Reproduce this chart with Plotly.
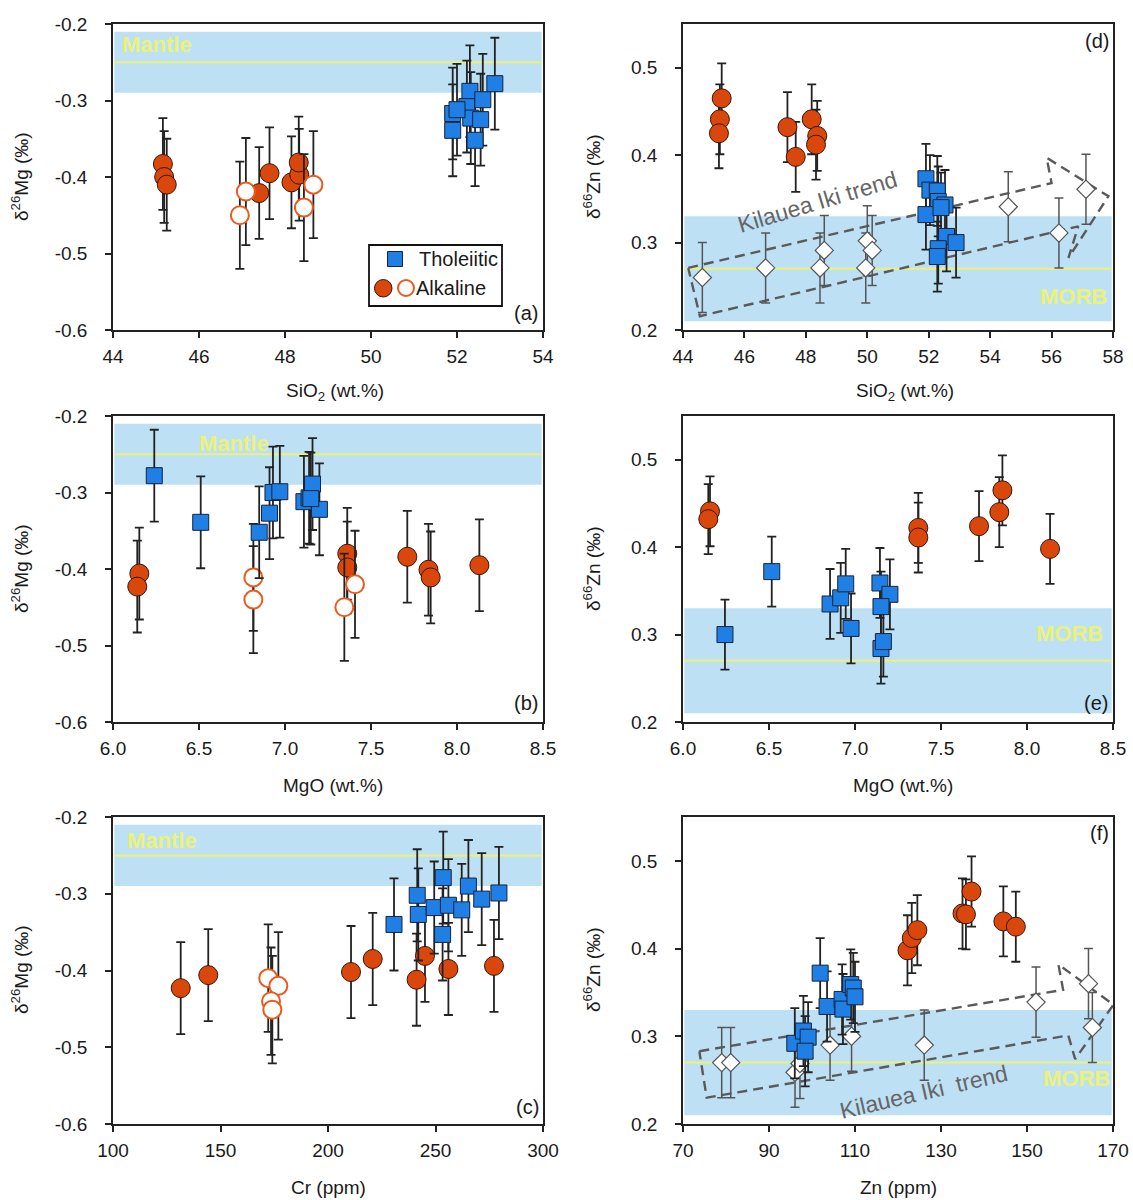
import plotly.graph_objects as go

# ---------------- data ----------------
# (a) d26Mg vs SiO2
a_th_x = [51.90, 51.90, 52.30, 52.23, 52.32, 52.60, 52.55, 52.42, 52.88, 52.00]
a_th_y = [-0.317, -0.339, -0.288, -0.308, -0.323, -0.299, -0.325, -0.352, -0.278, -0.312]
a_alk_x = [45.16, 45.19, 45.25, 47.40, 47.64, 48.15, 48.33, 48.32]
a_alk_y = [-0.383, -0.400, -0.410, -0.421, -0.395, -0.407, -0.397, -0.381]
a_alko_x = [46.95, 47.09, 48.44, 48.66]
a_alko_y = [-0.450, -0.419, -0.440, -0.410]

# (b) d26Mg vs MgO
b_th_x = [6.24, 6.51, 6.85, 6.91, 6.93, 6.97, 7.11, 7.14, 7.16, 7.20, 7.15]
b_th_y = [-0.278, -0.339, -0.352, -0.327, -0.300, -0.299, -0.312, -0.307, -0.289, -0.322, -0.308]
b_alk_x = [6.153, 6.141, 7.362, 7.362, 7.711, 7.834, 7.847, 8.130]
b_alk_y = [-0.406, -0.423, -0.380, -0.398, -0.384, -0.401, -0.411, -0.395]
b_alko_x = [6.816, 6.816, 7.407, 7.345]
b_alko_y = [-0.411, -0.440, -0.420, -0.450]

# (c) d26Mg vs Cr
c_th_x = [230.7, 241.5, 242.0, 249.4, 253.6, 256.0, 253.3, 262.2, 265.3, 271.5, 279.5]
c_th_y = [-0.340, -0.302, -0.327, -0.318, -0.279, -0.315, -0.353, -0.321, -0.290, -0.307, -0.299]
c_alk_x = [131.5, 144.3, 210.7, 220.8, 241.2, 245.1, 256.0, 277.2]
c_alk_y = [-0.423, -0.406, -0.402, -0.385, -0.412, -0.381, -0.398, -0.394]
c_alko_x = [172.2, 176.9, 173.5, 174.1]
c_alko_y = [-0.410, -0.420, -0.440, -0.451]

# (d) d66Zn vs SiO2
d_th_x = [51.91, 52.04, 52.28, 52.31, 52.53, 51.91, 52.40, 52.58, 52.89, 52.31, 52.28]
d_th_y = [0.373, 0.360, 0.359, 0.347, 0.343, 0.332, 0.340, 0.307, 0.300, 0.293, 0.284]
d_alk_x = [45.26, 45.20, 45.17, 47.40, 47.67, 48.19, 48.37, 48.33]
d_alk_y = [0.465, 0.441, 0.425, 0.432, 0.398, 0.441, 0.422, 0.412]
d_ki_x = [44.63, 46.69, 48.46, 48.60, 49.95, 50.00, 50.16, 54.59, 56.24, 57.12]
d_ki_y = [0.260, 0.271, 0.271, 0.291, 0.271, 0.302, 0.291, 0.341, 0.311, 0.361]
d_trend_x = [44.17, 56.00, 55.84, 57.85, 56.55, 56.87, 44.55, 44.17]
d_trend_y = [0.271, 0.368, 0.397, 0.353, 0.2825, 0.3186, 0.2158, 0.271]

# (e) d66Zn vs MgO
e_th_x = [6.244, 6.516, 6.855, 6.917, 6.946, 6.977, 7.145, 7.203, 7.151, 7.151, 7.165]
e_th_y = [0.300, 0.372, 0.335, 0.342, 0.358, 0.307, 0.359, 0.346, 0.332, 0.284, 0.292]
e_alk_x = [6.157, 6.147, 7.368, 7.368, 7.721, 7.839, 7.857, 8.134]
e_alk_y = [0.441, 0.432, 0.422, 0.411, 0.424, 0.440, 0.465, 0.398]

# (f) d66Zn vs Zn
f_th_x = [101.9, 103.5, 107.0, 107.2, 109.0, 109.6, 110.0, 96.0, 98.0, 99.1, 98.4]
f_th_y = [0.372, 0.334, 0.342, 0.331, 0.359, 0.355, 0.345, 0.292, 0.306, 0.299, 0.283]
f_alk_x = [122.2, 123.2, 124.5, 135.0, 135.8, 137.1, 144.5, 147.4]
f_alk_y = [0.398, 0.412, 0.421, 0.440, 0.439, 0.465, 0.431, 0.425]
f_ki_x = [79.0, 81.1, 96.05, 97.2, 104.2, 109.2, 126.1, 152.1, 164.3, 165.2]
f_ki_y = [0.270, 0.270, 0.259, 0.269, 0.290, 0.300, 0.290, 0.339, 0.360, 0.310]
f_trend_x = [73.8, 158.4, 157.3, 170.1, 161.2, 159.6, 75.5, 73.8]
f_trend_y = [0.283, 0.353, 0.382, 0.336, 0.274, 0.301, 0.230, 0.283]

# errors (2SD)
mg_err_th, mg_err_alk, mg_err_alko = 0.06, 0.06, 0.07
zn_err = 0.04

# reference ranges
mantle_lo, mantle_hi, mantle_mid = -0.29, -0.21, -0.25
morb_lo, morb_hi, morb_mid = 0.21, 0.33, 0.27

mg_tickvals = [-0.6, -0.5, -0.4, -0.3, -0.2]
mg_ticktext = ["-0.6", "-0.5", "-0.4", "-0.3", "-0.2"]
zn_tickvals = [0.2, 0.3, 0.4, 0.5]
zn_ticktext = ["0.2", "0.3", "0.4", "0.5"]

# ---------------- styles ----------------
W, H = 1133, 1200
FONT = "Arial, Liberation Sans, sans-serif"
BLUE = "#1f7fe4"
ORANGE = "#d9470d"
OPEN_OR = "#ea5a1c"
BAND = "#bee0f5"
YEL = "#eaf27a"
TXT = "#1a1a1a"


def pxx(x):
    return x / W


def pxy(y):
    return 1 - y / H


def sq_marker():
    return dict(symbol="square", size=16, color=BLUE, line=dict(width=1, color="#16243d"))


def circ_marker():
    return dict(symbol="circle", size=19, color=ORANGE, line=dict(width=1, color="#3a1606"))


def open_marker():
    return dict(symbol="circle", size=18, color="white", line=dict(width=2, color=OPEN_OR))


def dia_marker():
    return dict(symbol="diamond", size=14, color="white", line=dict(width=1.2, color="#555"))


def err(v, color="#222", th=1.8):
    return dict(type="constant", value=v, color=color, thickness=th, width=4.5)


fig = go.Figure()


def add(x, y, xa, ya, marker, e):
    fig.add_trace(go.Scatter(x=x, y=y, xaxis=xa, yaxis=ya, mode="markers",
                             marker=marker, error_y=e, hoverinfo="x+y"))


def add_trend(x, y, xa, ya):
    fig.add_trace(go.Scatter(x=x, y=y, xaxis=xa, yaxis=ya, mode="lines",
                             line=dict(color="#5a5a5a", width=2.4, dash="10px,6px"),
                             hoverinfo="skip"))


# (a)
add(a_alk_x, a_alk_y, "x", "y", circ_marker(), err(mg_err_alk))
add(a_alko_x, a_alko_y, "x", "y", open_marker(), err(mg_err_alko))
add(a_th_x, a_th_y, "x", "y", sq_marker(), err(mg_err_th))
# (d)
add_trend(d_trend_x, d_trend_y, "x2", "y2")
add(d_ki_x, d_ki_y, "x2", "y2", dia_marker(), err(zn_err, "#555", 1.5))
add(d_alk_x, d_alk_y, "x2", "y2", circ_marker(), err(zn_err))
add(d_th_x, d_th_y, "x2", "y2", sq_marker(), err(zn_err))
# (b)
add(b_alk_x, b_alk_y, "x3", "y3", circ_marker(), err(mg_err_alk))
add(b_alko_x, b_alko_y, "x3", "y3", open_marker(), err(mg_err_alko))
add(b_th_x, b_th_y, "x3", "y3", sq_marker(), err(mg_err_th))
# (e)
add(e_alk_x, e_alk_y, "x4", "y4", circ_marker(), err(zn_err))
add(e_th_x, e_th_y, "x4", "y4", sq_marker(), err(zn_err))
# (c)
add(c_alk_x, c_alk_y, "x5", "y5", circ_marker(), err(mg_err_alk))
add(c_alko_x, c_alko_y, "x5", "y5", open_marker(), err(mg_err_alko))
add(c_th_x, c_th_y, "x5", "y5", sq_marker(), err(mg_err_th))
# (f)
add_trend(f_trend_x, f_trend_y, "x6", "y6")
add(f_ki_x, f_ki_y, "x6", "y6", dia_marker(), err(zn_err, "#555", 1.5))
add(f_th_x, f_th_y, "x6", "y6", sq_marker(), err(zn_err))
add(f_alk_x, f_alk_y, "x6", "y6", circ_marker(), err(zn_err))

# ---------------- axes ----------------
XL = [113 / W, 543 / W]
XR = [683 / W, 1113 / W]
ROW1 = [1 - 330 / H, 1 - 24 / H]
ROW2 = [1 - 722 / H, 1 - 416 / H]
ROW3 = [1 - 1124 / H, 1 - 817 / H]

base = dict(showline=True, linecolor="#222", linewidth=1.6, mirror=True,
            ticks="outside", ticklen=6, tickcolor="#222", tickwidth=1.6,
            showgrid=False, zeroline=False, automargin=False,
            tickfont=dict(family=FONT, size=19, color=TXT))


def xax(domain, anchor, rng, dtick, fmt=None):
    d = dict(base, domain=domain, anchor=anchor, range=rng, tick0=rng[0], dtick=dtick,
             ticklabelstandoff=2)
    if fmt:
        d["tickformat"] = fmt
    return d


def yax(domain, anchor, rng, tv, tt):
    return dict(base, domain=domain, anchor=anchor, range=rng, tickvals=tv, ticktext=tt,
                ticklabelstandoff=14)


layout = dict(
    width=W, height=H, margin=dict(l=0, r=0, t=0, b=0, pad=0, autoexpand=False),
    paper_bgcolor="white", plot_bgcolor="white", showlegend=False,
    font=dict(family=FONT, size=19, color=TXT),
    xaxis=xax(XL, "y", [44, 54], 2),
    yaxis=yax(ROW1, "x", [-0.6, -0.2], mg_tickvals, mg_ticktext),
    xaxis2=xax(XR, "y2", [44, 58], 2),
    yaxis2=yax(ROW1, "x2", [0.2, 0.55], zn_tickvals, zn_ticktext),
    xaxis3=xax(XL, "y3", [6.0, 8.5], 0.5, ".1f"),
    yaxis3=yax(ROW2, "x3", [-0.6, -0.2], mg_tickvals, mg_ticktext),
    xaxis4=xax(XR, "y4", [6.0, 8.5], 0.5, ".1f"),
    yaxis4=yax(ROW2, "x4", [0.2, 0.55], zn_tickvals, zn_ticktext),
    xaxis5=xax(XL, "y5", [100, 300], 50),
    yaxis5=yax(ROW3, "x5", [-0.6, -0.2], mg_tickvals, mg_ticktext),
    xaxis6=xax(XR, "y6", [70, 170], 20),
    yaxis6=yax(ROW3, "x6", [0.2, 0.55], zn_tickvals, zn_ticktext),
)

shapes = []
# bands
for xa, ya, lo, hi, mid in [("x", "y", mantle_lo, mantle_hi, mantle_mid),
                            ("x3", "y3", mantle_lo, mantle_hi, mantle_mid),
                            ("x5", "y5", mantle_lo, mantle_hi, mantle_mid),
                            ("x2", "y2", morb_lo, morb_hi, morb_mid),
                            ("x4", "y4", morb_lo, morb_hi, morb_mid),
                            ("x6", "y6", morb_lo, morb_hi, morb_mid)]:
    shapes.append(dict(type="rect", xref=xa + " domain", yref=ya, x0=0.003, x1=0.997,
                       y0=lo, y1=hi, fillcolor=BAND, line=dict(width=0), layer="below"))
    shapes.append(dict(type="line", xref=xa + " domain", yref=ya, x0=0.003, x1=0.997,
                       y0=mid, y1=mid, line=dict(color=YEL, width=2), layer="below"))

# legend box in (a)
shapes.append(dict(type="rect", xref="paper", yref="paper", x0=pxx(369), x1=pxx(502),
                   y0=pxy(306), y1=pxy(245), line=dict(color="#111", width=1.8),
                   fillcolor="white"))
shapes.append(dict(type="rect", xref="paper", yref="paper", x0=pxx(387.5), x1=pxx(402.5),
                   y0=pxy(266.5), y1=pxy(251.5), line=dict(color="#16243d", width=1),
                   fillcolor=BLUE))
shapes.append(dict(type="circle", xref="paper", yref="paper", x0=pxx(374.5), x1=pxx(392),
                   y0=pxy(297), y1=pxy(279.5), line=dict(color="#3a1606", width=1),
                   fillcolor=ORANGE))
shapes.append(dict(type="circle", xref="paper", yref="paper", x0=pxx(398), x1=pxx(414),
                   y0=pxy(296), y1=pxy(280), line=dict(color=OPEN_OR, width=2),
                   fillcolor="white"))
layout["shapes"] = shapes

ann = []


def txt(x, y, s, size=19, color=TXT, xanchor="center", yanchor="middle", angle=0, bold=False):
    if bold:
        s = "<b>" + s + "</b>"
    ann.append(dict(x=pxx(x), y=pxy(y), xref="paper", yref="paper", text=s, showarrow=False,
                    xanchor=xanchor, yanchor=yanchor, textangle=angle, borderpad=0,
                    font=dict(family=FONT, size=size, color=color)))


# axis titles
mg_t = "δ<sup>26</sup>Mg (‰)"
zn_t = "δ<sup>66</sup>Zn (‰)"
txt(20, 177, mg_t, angle=-90)
txt(20, 569, mg_t, angle=-90)
txt(20, 970, mg_t, angle=-90)
txt(592, 177, zn_t, angle=-90)
txt(592, 569, zn_t, angle=-90)
txt(592, 970, zn_t, angle=-90)
txt(335, 392, "SiO<sub>2</sub> (wt.%)")
txt(905, 392, "SiO<sub>2</sub> (wt.%)")
txt(333, 785, "MgO (wt.%)")
txt(903, 785, "MgO (wt.%)")
txt(328, 1187, "Cr (ppm)")
txt(898, 1187, "Zn (ppm)")

# panel labels
txt(539, 313, "(a)", size=20, xanchor="right")
txt(539, 703, "(b)", size=20, xanchor="right")
txt(540, 1107, "(c)", size=20, xanchor="right")
txt(1110, 41, "(d)", size=20, xanchor="right")
txt(1109, 703, "(e)", size=20, xanchor="right")
txt(1110, 833, "(f)", size=20, xanchor="right")

# legend text
txt(418, 259, "Tholeiitic", size=20, xanchor="left")
txt(415, 288, "Alkaline", size=20, xanchor="left")

# band labels
txt(121, 45, "Mantle", size=22, color=YEL, xanchor="left", bold=True)
txt(198, 443, "Mantle", size=22, color=YEL, xanchor="left", bold=True)
txt(126, 840, "Mantle", size=22, color=YEL, xanchor="left", bold=True)
txt(1108, 296, "MORB", size=22, color=YEL, xanchor="right", bold=True)
txt(1104, 633, "MORB", size=22, color=YEL, xanchor="right", bold=True)
txt(1111, 1078, "MORB", size=22, color=YEL, xanchor="right", bold=True)

# trend labels
txt(817, 202, "Kilauea Iki trend", size=23, color="#666", angle=-16.6)
txt(923, 1092, "Kilauea Iki\u00a0 trend", size=23, color="#666", angle=-13)

layout["annotations"] = ann
fig.update_layout(**layout)
fig.write_html("out.html")
